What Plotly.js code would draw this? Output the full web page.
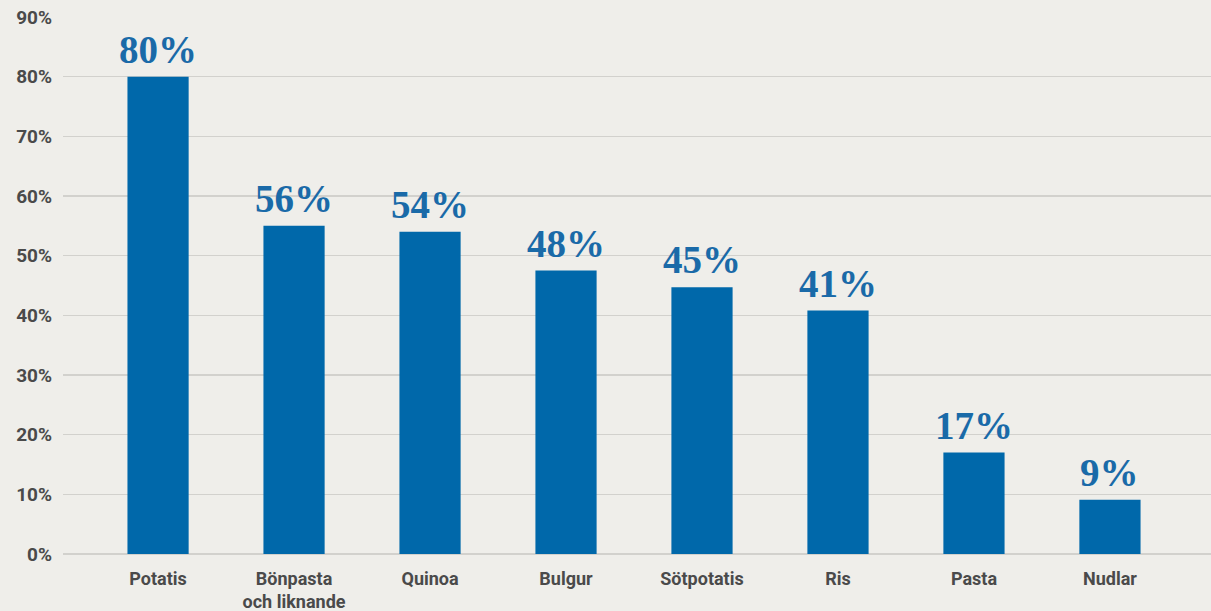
<!DOCTYPE html>
<html><head><meta charset="utf-8">
<script src="https://cdn.plot.ly/plotly-3.0.1.min.js"></script>
<style>html,body{margin:0;padding:0;background:#efeeea;}#chart{width:1211px;height:611px;}</style>
</head><body><div id="chart"></div>
<script>
const categories = ["Potatis", "Bönpasta<br>och liknande", "Quinoa", "Bulgur", "Sötpotatis", "Ris", "Pasta", "Nudlar"];
const values = [80, 55, 54, 47.5, 44.7, 40.8, 17, 9.1];
const valueLabels = ["80%", "56%", "54%", "48%", "45%", "41%", "17%", "9%"];
const yTickVals = [0, 10, 20, 30, 40, 50, 60, 70, 80, 90];
const yTickText = ["0%", "10%", "20%", "30%", "40%", "50%", "60%", "70%", "80%", "90%"];

const xs = categories.map((c, i) => i);
const trace = {
  type: "bar", x: xs, y: values, width: 0.45,
  marker: {color: "#0068aa"}, hoverinfo: "none"
};
const annotations = values.map((v, i) => ({
  x: xs[i], y: v, xref: "x", yref: "y", text: valueLabels[i], showarrow: false,
  yanchor: "bottom", yshift: 4,
  font: {family: "Liberation Serif, serif", size: 39, color: "#1a6aa8", weight: 700}
}));
const layout = {
  width: 1211, height: 611,
  paper_bgcolor: "#efeeea", plot_bgcolor: "#efeeea",
  margin: {l: 63, r: 0, t: 17, b: 57},
  showlegend: false,
  xaxis: {
    range: [-0.699, 7.743], tickvals: xs, ticktext: categories,
    showgrid: false, zeroline: false, showline: false, ticks: "",
    tickfont: {family: "Roboto, sans-serif", size: 18, color: "#4a4a4a", weight: 700},
    ticklabelstandoff: 12, fixedrange: true
  },
  yaxis: {
    range: [0, 90], tickvals: yTickVals, ticktext: yTickText,
    showgrid: true, gridcolor: "#d2d1cd", gridwidth: 1.5,
    zeroline: true, zerolinecolor: "#d2d1cd", zerolinewidth: 1.5,
    showline: false, ticks: "",
    tickfont: {family: "Roboto, sans-serif", size: 19, color: "#4a4a4a", weight: 700},
    ticklabelstandoff: 10, fixedrange: true
  },
  annotations: annotations
};
Plotly.newPlot("chart", [trace], layout, {displayModeBar: false, staticPlot: true});
</script></body></html>
